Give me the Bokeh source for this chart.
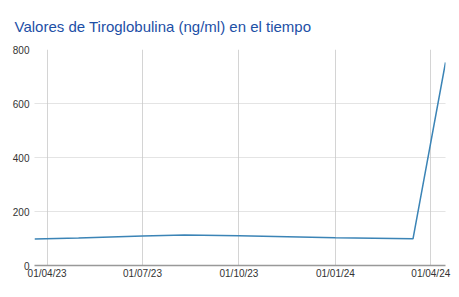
import pandas as pd
from bokeh.plotting import figure
from bokeh.models import Range1d, FixedTicker, DatetimeTickFormatter, ColumnDataSource
from bokeh.embed import file_html
from bokeh.resources import INLINE

# Data
dates = ["2023-03-20", "2023-05-01", "2023-07-01", "2023-08-10", "2023-10-01",
         "2024-01-01", "2024-03-15", "2024-04-15"]
values = [98, 102, 109, 113, 110, 103, 99, 752]
tick_dates = ["2023-04-01", "2023-07-01", "2023-10-01", "2024-01-01", "2024-04-01"]
y_ticks = [0, 200, 400, 600, 800]
title_text = "Valores de Tiroglobulina (ng/ml) en el tiempo"

x = pd.to_datetime(dates)
src = ColumnDataSource(dict(x=x, y=values))

p = figure(width=451, height=281, output_backend="svg", toolbar_location=None,
           x_axis_type="datetime",
           x_range=Range1d(pd.Timestamp("2023-03-20"), pd.Timestamp("2024-04-15")),
           y_range=Range1d(0, 800),
           min_border_left=34, min_border_right=6, min_border_top=49, min_border_bottom=0)

p.title.text = title_text
p.title.text_font = "Liberation Sans"
p.title.text_font_size = "15px"
p.title.text_font_style = "normal"
p.title.text_color = "#1d4fa6"
p.title.offset = -20
p.title.standoff = 30

p.line("x", "y", source=src, line_color="#3b84b6", line_width=1.5)

tick_ms = [pd.Timestamp(d).value // 10**6 for d in tick_dates]
p.xaxis.ticker = FixedTicker(ticks=tick_ms)
p.xaxis.formatter = DatetimeTickFormatter(days="%d/%m/%y", months="%d/%m/%y", years="%d/%m/%y")
p.yaxis.ticker = FixedTicker(ticks=y_ticks)

for ax in (p.xaxis[0], p.yaxis[0]):
    ax.major_label_text_font = "Liberation Sans"
    ax.major_label_text_font_size = "10px"
    ax.major_label_text_color = "#333333"
    ax.major_tick_line_color = None
    ax.minor_tick_line_color = None
    ax.major_tick_out = 0
    ax.major_tick_in = 0
    ax.minor_tick_out = 0
    ax.minor_tick_in = 0

p.yaxis.axis_line_color = None
p.yaxis.major_label_standoff = 5
p.xaxis.axis_line_color = "#999999"
p.xaxis.axis_line_width = 1.5
p.xaxis.major_label_standoff = 2

p.xgrid.grid_line_color = "#d4d4d4"
p.xgrid.grid_line_width = 1
p.ygrid.grid_line_color = "#c8c8c8"
p.ygrid.grid_line_dash = "1 1"

p.outline_line_color = None
p.background_fill_color = "white"
p.border_fill_color = "white"

open("out.html", "w").write(file_html(p, INLINE))
